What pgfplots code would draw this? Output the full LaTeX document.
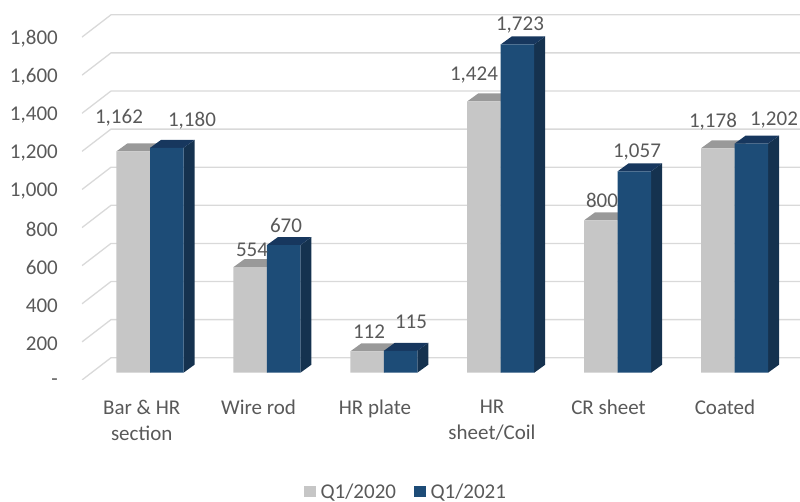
\documentclass[border=0pt]{standalone}
\usepackage{pgfplots}
\pgfplotsset{compat=1.18}
\usepackage{fontspec}
\setmainfont{Carlito}
\definecolor{txt}{HTML}{595959}
\definecolor{gridc}{HTML}{D9D9D9}
\definecolor{gfront}{HTML}{C6C6C6}
\definecolor{gtop}{HTML}{999999}
\definecolor{gside}{HTML}{8F8F8F}
\definecolor{bfront}{HTML}{1D4C77}
\definecolor{btop}{HTML}{17375E}
\definecolor{bside}{HTML}{15324F}
% wall lines: tick value, front-left corner to back wall
\newcommand\gridlevel[1]{%
  \pgfmathsetmacro\ya{#1-38.2}\pgfmathsetmacro\yb{#1+78.7}%
  \addplot[color=gridc,line width=1.3pt,forget plot] coordinates {(82,\ya)(111,\yb)(800,\yb)};}
% top and side face of a bar: left x, value, side colour, top colour
\newcommand\faces[4]{%
  \pgfmathsetmacro\xa{#1}\pgfmathsetmacro\xb{#1+33.5}%
  \pgfmathsetmacro\xc{#1+11}\pgfmathsetmacro\xd{#1+44.5}%
  \pgfmathsetmacro\yt{#2+42}%
  \addplot[draw=none,fill=#3,forget plot] coordinates {(\xb,0)(\xb,#2)(\xd,\yt)(\xd,42)};
  \addplot[draw=none,fill=#4,forget plot] coordinates {(\xa,#2)(\xb,#2)(\xd,\yt)(\xc,\yt)};}
\begin{document}
\begin{tikzpicture}[x=1pt,y=1pt]
\useasboundingbox (-82,-122) rectangle (718,380);
\begin{axis}[
  anchor=south west, at={(0,0)},
  scale only axis, width=718pt, height=380pt,
  xmin=82, xmax=800, ymin=-38.2, ymax=1956.4,
  axis line style={draw=none}, major tick length=0pt,
  xtick={141.7,258.5,375,492,608.5,725},
  xticklabels={Bar \& HR\\section,Wire rod,HR plate,HR\\sheet/Coil,CR sheet,Coated},
  ytick={-38.2,161.8,361.8,561.8,761.8,961.8,1161.8,1361.8,1561.8,1761.8},
  yticklabels={{-\hspace{10pt}},200,400,600,800,{1,000},{1,200},{1,400},{1,600},{1,800}},
  tick label style={font=\fontsize{21}{26}\selectfont,text=txt},
  xticklabel style={align=center,anchor=north,inner sep=0pt,yshift=-20pt},
  yticklabel style={anchor=east,inner sep=0pt,xshift=-24pt,yshift=-2pt},
  legend style={at={(0.4513,-0.294)},anchor=center,draw=none,fill=none,legend columns=2,
    font=\fontsize{21}{24}\selectfont,text=txt,inner sep=0pt,
    /tikz/every even column/.style={column sep=16pt}},
  legend image code/.code={\fill[#1] (0pt,-5.5pt) rectangle (11.5pt,5.5pt);},
]
\pgfplotsinvokeforeach{0,200,400,600,800,1000,1200,1400,1600,1800}{\gridlevel{#1}}
\faces{116.5}{1162}{gside}{gtop}
\faces{233.4}{554}{gside}{gtop}
\faces{350.3}{112}{gside}{gtop}
\faces{467.2}{1424}{gside}{gtop}
\faces{584.1}{800}{gside}{gtop}
\faces{701.0}{1178}{gside}{gtop}
\addplot[ybar,bar shift=0pt,bar width=33.5,draw=none,fill=gfront] coordinates
  {(133.25,1162)(250.15,554)(367.05,112)(483.95,1424)(600.85,800)(717.75,1178)};
\addlegendentry{\hspace{3pt}Q1/2020}
\faces{150.0}{1180}{bside}{btop}
\faces{266.9}{670}{bside}{btop}
\faces{383.8}{115}{bside}{btop}
\faces{500.7}{1723}{bside}{btop}
\faces{617.6}{1057}{bside}{btop}
\faces{734.5}{1202}{bside}{btop}
\addplot[ybar,bar shift=0pt,bar width=33.5,draw=none,fill=bfront] coordinates
  {(166.75,1180)(283.65,670)(400.55,115)(517.45,1723)(634.35,1057)(751.25,1202)};
\addlegendentry{\hspace{3pt}Q1/2021}
\tikzset{lab/.style={font=\fontsize{21}{24}\selectfont,text=txt,inner sep=0pt,yshift=-2pt}}
\node[lab] at (axis cs:119,{(372.7-116)/0.1905}) {1,162};
\node[lab] at (axis cs:192,{(372.7-119)/0.1905}) {1,180};
\node[lab] at (axis cs:252,{(372.7-248)/0.1905}) {554};
\node[lab] at (axis cs:286,{(372.7-223)/0.1905}) {670};
\node[lab] at (axis cs:369,{(372.7-330)/0.1905}) {112};
\node[lab] at (axis cs:411,{(372.7-320)/0.1905}) {115};
\node[lab] at (axis cs:474,{(372.7-73)/0.1905}) {1,424};
\node[lab] at (axis cs:520,{(372.7-23.5)/0.1905}) {1,723};
\node[lab] at (axis cs:602,{(372.7-198.5)/0.1905}) {800};
\node[lab] at (axis cs:637,{(372.7-150.5)/0.1905}) {1,057};
\node[lab] at (axis cs:713,{(372.7-120)/0.1905}) {1,178};
\node[lab] at (axis cs:774,{(372.7-118)/0.1905}) {1,202};
\end{axis}
\end{tikzpicture}
\end{document}
